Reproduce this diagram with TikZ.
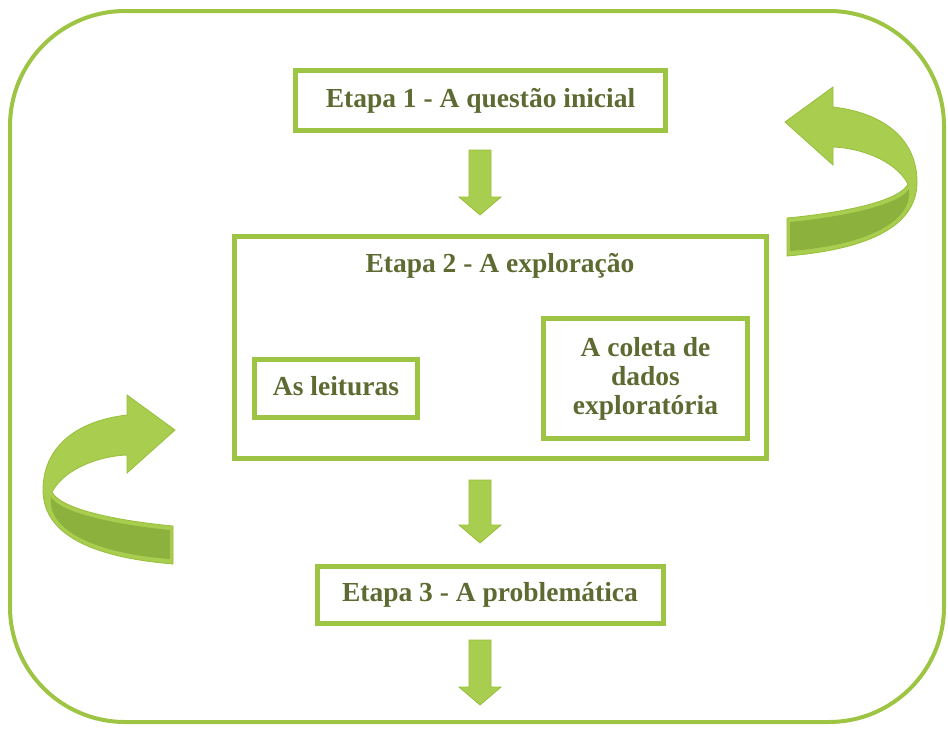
\documentclass[tikz,border=0pt]{standalone}
\usepackage{fontspec}
\setmainfont{Liberation Serif}
\definecolor{lgreen}{HTML}{9DC543}
\definecolor{afill}{HTML}{A9CE4F}
\definecolor{aline}{HTML}{97BE3B}
\definecolor{adark}{HTML}{8CB13D}
\definecolor{txt}{HTML}{5D6A31}
\newcommand\curvearrowshape{%
  \draw[arrowbody] (785,122) -- (833,87) -- (833,107)
    .. controls (885,113) and (917,140) .. (917,182)
    .. controls (917,230) and (860,250) .. (787,256) -- (787,218)
    .. controls (850,212) and (900,200) .. (908,184)
    .. controls (895,160) and (860,148) .. (833,147) -- (833,165) -- cycle;
  \fill[adark] (790,222) .. controls (850,216) and (900,204) .. (909,189)
    .. controls (913,220) and (870,245) .. (790,251) -- cycle;
}
\newcommand\blockdown[3]{%
  \draw[arrowbody] ({#1-11},#2) -- ({#1+11},#2) -- ({#1+11},{#3-18}) -- ({#1+21},{#3-18})
    -- (#1,#3) -- ({#1-21},{#3-18}) -- ({#1-11},{#3-18}) -- cycle;
}
\begin{document}
\begin{tikzpicture}[x=1pt,y=-1pt,
  boxfont/.style={font=\bfseries\fontsize{27.5}{29}\selectfont, text=txt},
  box/.style={boxfont, draw=lgreen, line width=5pt, fill=white, inner sep=0pt, align=center},
  onebox/.style={box, text height=19pt, text depth=6pt},
  lbl/.style={boxfont, inner sep=0pt},
  arrowbody/.style={fill=afill, draw=aline, line width=0.8pt, line join=miter}]
\useasboundingbox (0,0) rectangle (948,729);
\draw[lgreen, line width=4pt, rounded corners=115pt] (10,11) rectangle (944,722);

\node[onebox, minimum width=370pt, minimum height=60pt] (e1) at (480.5,100.5) {Etapa 1 - A questão inicial};
\node[box, minimum width=532pt, minimum height=222pt] (e2) at (500.5,347.5) {};
\node[lbl, anchor=base] (e2t) at (500,272) {Etapa 2 - A exploração};
\node[onebox, minimum width=163pt, minimum height=58pt] (lei) at (336,388.5) {As leituras};
\node[box, minimum width=204pt, minimum height=120pt] (col) at (645.5,378.5) {A coleta de\\dados\\exploratória};
\node[onebox, minimum width=346pt, minimum height=57pt] (e3) at (490,595) {Etapa 3 - A problemática};

\blockdown{480}{150}{215}
\blockdown{480}{480}{543}
\blockdown{480}{640}{705}

\curvearrowshape
\begin{scope}[shift={(960,308)}, xscale=-1]
  \curvearrowshape
\end{scope}
\end{tikzpicture}
\end{document}
